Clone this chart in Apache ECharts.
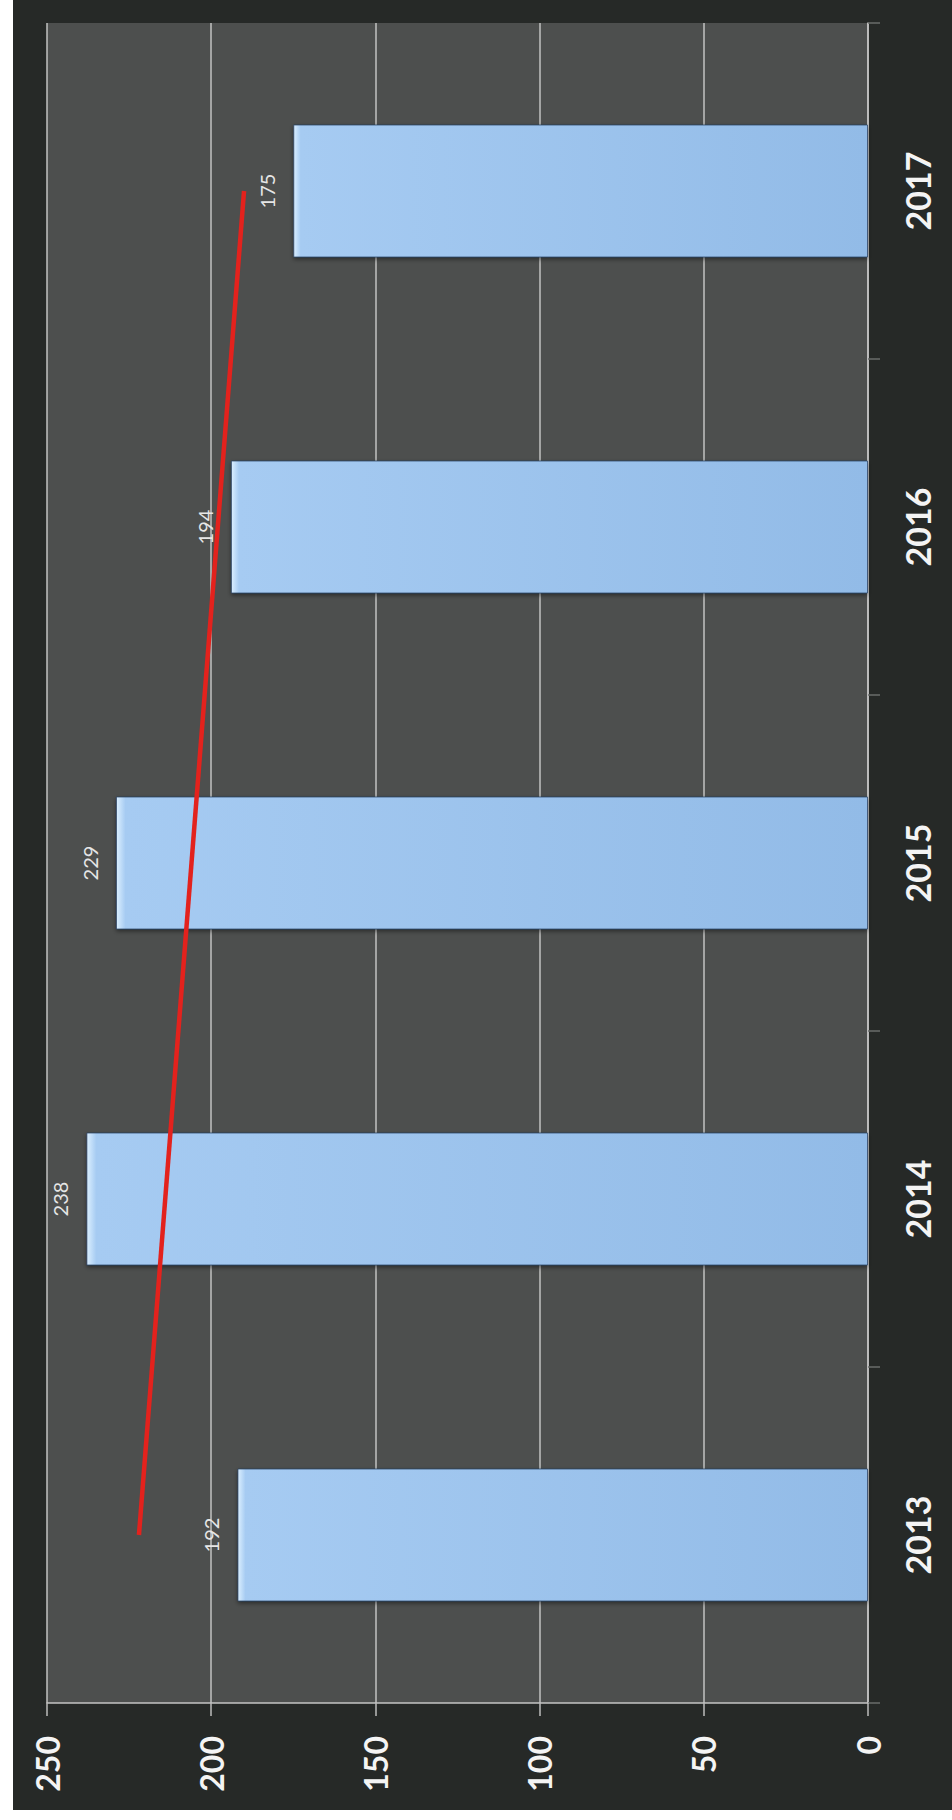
<!DOCTYPE html>
<html>
<head>
<meta charset="utf-8">
<script src="https://cdn.jsdelivr.net/npm/echarts@6/dist/echarts.min.js"></script>
<style>
  html, body { margin: 0; padding: 0; background: #ffffff; width: 952px; height: 1820px; overflow: hidden; }
  #chart { position: absolute; left: 13px; top: 0; width: 939px; height: 1810px; }
</style>
</head>
<body>
<div id="chart"></div>
<script>
// ---- data ----
const categories = ['2013', '2014', '2015', '2016', '2017'];
const values = [192, 238, 229, 194, 175];
// linear trend line: read its two end points off the picture
const trendValues = [222, null, null, null, 190];
const valueMin = 0;
const valueMax = 250;
const valueStep = 50;

const chart = echarts.init(document.getElementById('chart'), null, { renderer: 'svg' });

chart.setOption({
  animation: false,
  backgroundColor: '#262927',
  grid: {
    left: 34, right: 84, top: 23, bottom: 107,
    show: true, backgroundColor: '#4d4f4e', borderWidth: 0
  },
  xAxis: {
    type: 'value',
    inverse: true,
    position: 'bottom',
    min: valueMin, max: valueMax, interval: valueStep,
    axisLine: { show: true, lineStyle: { color: '#c4c4c4', width: 1.5 } },
    axisTick: { show: true, length: 13, lineStyle: { color: '#bdbdbd', width: 1.5 } },
    splitLine: { show: true, lineStyle: { color: '#c2c2c2', width: 1.5 } },
    axisLabel: {
      rotate: 90, margin: 33, color: '#f4f4f4',
      fontFamily: 'Lato', fontWeight: 'bold', fontSize: 32
    }
  },
  yAxis: {
    type: 'category',
    position: 'right',
    data: categories,
    axisLine: { show: true, lineStyle: { color: '#c4c4c4', width: 1.5 } },
    axisTick: { show: true, length: 12, lineStyle: { color: '#6a6c6b', width: 1.5 } },
    splitLine: { show: false },
    axisLabel: {
      rotate: 90, margin: 32, color: '#f4f4f4',
      fontFamily: 'Lato', fontWeight: 'bold', fontSize: 34
    }
  },
  series: [
    {
      type: 'bar',
      data: values,
      barWidth: 133,
      itemStyle: {
        color: new echarts.graphic.LinearGradient(0, 0, 1, 0, [
          { offset: 0, color: '#dbefff' },
          { offset: 0.012, color: '#a6cbf2' },
          { offset: 1, color: '#92bbe7' }
        ]),
        borderColor: 'rgba(35,60,95,0.7)',
        borderWidth: 1,
        shadowColor: 'rgba(0,0,0,0.45)',
        shadowBlur: 4,
        shadowOffsetY: 2
      },
      label: {
        show: true,
        position: 'left',
        distance: 26,
        rotate: 90,
        align: 'center',
        verticalAlign: 'middle',
        color: '#e6e6e6',
        fontFamily: 'Lato',
        fontSize: 20
      }
    },
    {
      type: 'line',
      data: trendValues,
      connectNulls: true,
      symbol: 'none',
      z: 5,
      lineStyle: { color: '#e3221d', width: 4.5 }
    }
  ]
});
</script>
</body>
</html>
